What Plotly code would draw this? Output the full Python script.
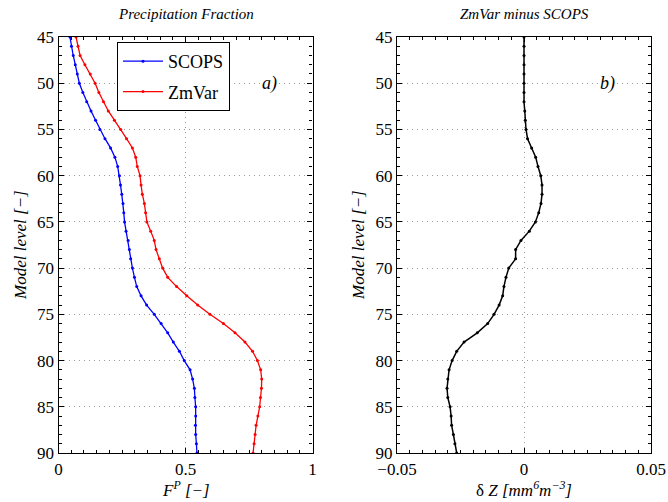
import plotly.graph_objects as go

# Model levels (top of plotted column to surface)
levels = list(range(45, 91))

# Precipitation fraction F^P for the two overlap schemes
scops = [0.045, 0.051, 0.058, 0.066, 0.074, 0.082, 0.096, 0.111, 0.128, 0.146,
         0.163, 0.183, 0.205, 0.222, 0.233, 0.240, 0.244, 0.249, 0.254, 0.257,
         0.260, 0.266, 0.274, 0.279, 0.284, 0.291, 0.299, 0.308, 0.325, 0.347,
         0.377, 0.404, 0.430, 0.452, 0.476, 0.495, 0.518, 0.528, 0.535, 0.537,
         0.540, 0.540, 0.539, 0.540, 0.543, 0.545]
zmvar = [0.069, 0.077, 0.085, 0.104, 0.125, 0.144, 0.159, 0.177, 0.196, 0.220,
         0.245, 0.268, 0.291, 0.304, 0.310, 0.321, 0.325, 0.330, 0.338, 0.343,
         0.348, 0.363, 0.377, 0.384, 0.397, 0.410, 0.430, 0.465, 0.505, 0.548,
         0.596, 0.649, 0.695, 0.734, 0.764, 0.783, 0.796, 0.800, 0.799, 0.795,
         0.792, 0.785, 0.778, 0.774, 0.770, 0.766]

# Reflectivity difference ZmVar - SCOPS [mm^6 m^-3]
dz = [0.0, 0.0, 0.0, 0.0, 0.0, 0.0, 0.0, 0.0, 0.0003, 0.0005,
      0.0008, 0.0014, 0.0030, 0.0046, 0.0055, 0.0066, 0.0071, 0.0071, 0.0067, 0.0058,
      0.0045, 0.0021, -0.0012, -0.0033, -0.0033, -0.0060, -0.0071, -0.0079, -0.0084, -0.0098,
      -0.0118, -0.0143, -0.0184, -0.0236, -0.0265, -0.0283, -0.0295, -0.0300, -0.0303, -0.0300,
      -0.0291, -0.0287, -0.0285, -0.0278, -0.0272, -0.0265]

ytick_vals = list(range(45, 91, 5))
FONT = "Liberation Serif, Times New Roman, serif"

W, H = 668, 502
fig = go.Figure()

fig.add_trace(go.Scatter(x=scops, y=levels, mode="lines+markers", name="SCOPS",
                         legendgroup="a",
                         line=dict(color="#0000ff", width=1.3),
                         marker=dict(size=3, color="#0000ff"),
                         xaxis="x", yaxis="y"))
fig.add_trace(go.Scatter(x=zmvar, y=levels, mode="lines+markers", name="ZmVar",
                         legendgroup="b",
                         line=dict(color="#ff0000", width=1.3),
                         marker=dict(size=3, color="#ff0000"),
                         xaxis="x", yaxis="y"))
fig.add_trace(go.Scatter(x=dz, y=levels, mode="lines+markers", name="dZ",
                         line=dict(color="black", width=1.5),
                         marker=dict(size=3, color="black"),
                         showlegend=False, xaxis="x2", yaxis="y2"))

common = dict(showline=True, linecolor="black", linewidth=1.2, mirror="allticks",
              ticks="inside", ticklen=5, tickcolor="black", automargin=False,
              showgrid=True, gridcolor="#9a9a9a", griddash="1px,4px", gridwidth=1,
              zeroline=False, tickfont=dict(family=FONT, size=17, color="black"))

x1dom = [58.5 / W, 312.5 / W]
x2dom = [397 / W, 651 / W]
ydom = [1 - 453 / H, 1 - 37 / H]

fig.update_layout(
    template="none",
    width=W, height=H, autosize=False,
    margin=dict(l=0, r=0, t=0, b=0, pad=0),
    paper_bgcolor="white", plot_bgcolor="white",
    font=dict(family=FONT, color="black"),
    xaxis=dict(domain=x1dom, range=[0, 1], tickvals=[0, 0.5, 1],
               ticktext=["0", "0.5", "1"], anchor="y",
               minor=dict(ticks="inside", dtick=0.05, ticklen=3, tickcolor="black", showgrid=False),
               **common),
    yaxis=dict(domain=ydom, range=[90, 45], tickvals=ytick_vals, anchor="x",
               minor=dict(ticks="inside", dtick=1, ticklen=3, tickcolor="black", showgrid=False),
               **common),
    xaxis2=dict(domain=x2dom, range=[-0.05, 0.05], tickvals=[-0.05, 0, 0.05],
                ticktext=["\u22120.05", "0", "0.05"], anchor="y2",
                minor=dict(ticks="inside", dtick=0.005, ticklen=3, tickcolor="black", showgrid=False),
                **common),
    yaxis2=dict(domain=ydom, range=[90, 45], tickvals=ytick_vals, anchor="x2",
                minor=dict(ticks="inside", dtick=1, ticklen=3, tickcolor="black", showgrid=False),
                **common),
    legend=dict(x=117 / W, y=1 - 42 / H, xanchor="left", yanchor="top",
                bgcolor="white", bordercolor="black", borderwidth=1,
                font=dict(family=FONT, size=18, color="black"),
                itemwidth=40, tracegroupgap=4),
)

ann = []
txt = dict(family=FONT, size=15, color="black")
center = dict(xref="paper", yref="paper", showarrow=False, xanchor="center", yanchor="middle")
ann.append(dict(text="<i>Precipitation Fraction</i>", x=185.5 / W, y=1 - 14 / H,
                font=txt, **center))
ann.append(dict(text="<i>ZmVar minus SCOPS</i>", x=524 / W, y=1 - 14 / H,
                font=txt, **center))
ann.append(dict(text="<i>F<sup>P</sup> [\u2212]</i>", x=185.5 / W, y=1 - 489 / H,
                font=dict(family=FONT, size=17), **center))
ann.append(dict(text="\u03b4 <i>Z [mm<sup>6</sup>m<sup>\u22123</sup>]</i>", x=524 / W, y=1 - 489 / H,
                font=dict(family=FONT, size=17), **center))
for xp in (20, 358):
    ann.append(dict(text="<i>Model level [\u2212]</i>", x=xp / W, y=1 - 245 / H,
                    textangle=-90, font=dict(family=FONT, size=17), **center))
ann.append(dict(text="<i>a)</i>", x=0.83, y=50, xref="x", yref="y", showarrow=False,
                xanchor="center", yanchor="middle",
                font=dict(family=FONT, size=18), bgcolor="white"))
ann.append(dict(text="<i>b)</i>", x=0.033, y=50, xref="x2", yref="y2", showarrow=False,
                xanchor="center", yanchor="middle",
                font=dict(family=FONT, size=18), bgcolor="white"))
fig.update_layout(annotations=ann)

fig.write_html("out.html")
